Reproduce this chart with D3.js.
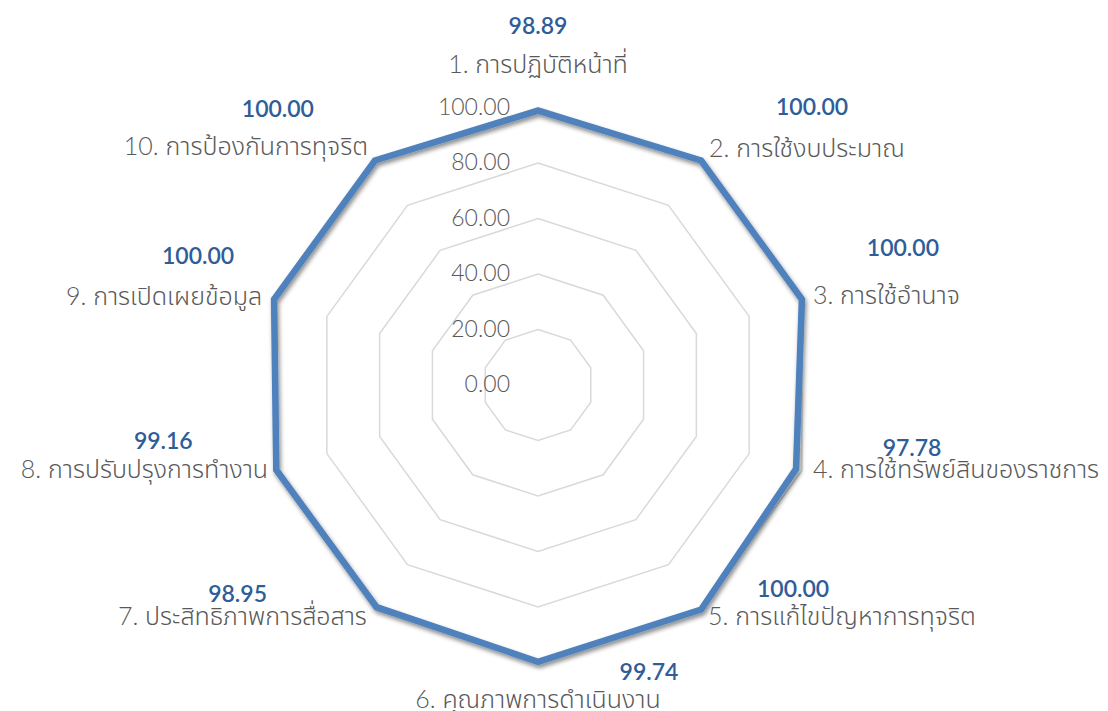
<!DOCTYPE html>
<html>
<head>
<meta charset="utf-8">
<script src="https://cdn.jsdelivr.net/npm/d3@7"></script>
<style>
  html, body { margin: 0; padding: 0; background: #fff; }
  svg { display: block; }
  text { font-family: Lato, "Noto Sans Thai", "Noto Sans", sans-serif; }
</style>
</head>
<body>
<svg id="chart" width="1108" height="711"></svg>
<script>
// ---- data ----
const categories = [
  "1. การปฏิบัติหน้าที่",
  "2. การใช้งบประมาณ",
  "3. การใช้อำนาจ",
  "4. การใช้ทรัพย์สินของราชการ",
  "5. การแก้ไขปัญหาการทุจริต",
  "6. คุณภาพการดำเนินงาน",
  "7. ประสิทธิภาพการสื่อสาร",
  "8. การปรับปรุงการทำงาน",
  "9. การเปิดเผยข้อมูล",
  "10. การป้องกันการทุจริต"
];
const values = [98.89, 100.00, 100.00, 97.78, 100.00, 99.74, 98.95, 99.16, 100.00, 100.00];
const tickValues = [0, 20, 40, 60, 80, 100];

// ---- layout (kept apart from data) ----
const cx = 538, cy = 385, R = 277.5;
// category label offsets from the 100-ring vertex: [dx, dy, anchor]
const catLayout = [
  [0, -45, "middle"], [8, -13, "start"], [11, -5, "start"], [11, -3, "start"], [7, 5, "start"],
  [0, 35, "middle"], [-8, 5, "end"], [-6, -3, "end"], [-12, -4, "end"], [-7, -15, "end"]
];
// value label offsets from the data point: [dx, dy]
const valLayout = [
  [0, -86], [111, -54], [101, -52], [116, -22], [92, -22],
  [111, 9], [-139, -14], [-113, -30], [-76, -44], [-97, -52]
];

const svg = d3.select("#chart");
const defs = svg.append("defs");
const f = defs.append("filter").attr("id", "shadow")
  .attr("x", "-10%").attr("y", "-10%").attr("width", "120%").attr("height", "120%");
f.append("feDropShadow").attr("dx", 1.5).attr("dy", 3).attr("stdDeviation", 2.2)
  .attr("flood-color", "#000").attr("flood-opacity", 0.45);

const n = categories.length;
const angle = d3.scaleLinear().domain([0, n]).range([0, 2 * Math.PI]);
const r = d3.scaleLinear().domain([0, 100]).range([0, R]);

const pt = (i, v) => {
  const a = angle(i);
  return [cx + r(v) * Math.sin(a), cy - r(v) * Math.cos(a)];
};

const lineGen = d3.line().curve(d3.curveLinearClosed);

// grid rings
svg.append("g").selectAll("path")
  .data(tickValues.filter(t => t > 0))
  .join("path")
  .attr("d", t => lineGen(d3.range(n).map(i => pt(i, t))))
  .attr("fill", "none")
  .attr("stroke", "#d9d9d9")
  .attr("stroke-width", 1.5);

// tick labels
svg.append("g").selectAll("text")
  .data(tickValues)
  .join("text")
  .attr("x", cx - 28)
  .attr("y", t => cy - r(t) - 2)
  .attr("text-anchor", "end")
  .attr("dominant-baseline", "central")
  .attr("font-size", 23)
  .attr("font-weight", 300)
  .attr("fill", "#595959")
  .text(t => d3.format(".2f")(t));

// data polygon
svg.append("path")
  .attr("d", lineGen(values.map((v, i) => pt(i, v))))
  .attr("fill", "none")
  .attr("stroke", "#4f81bd")
  .attr("stroke-width", 6.5)
  .attr("stroke-linejoin", "miter")
  .attr("filter", "url(#shadow)");

// category labels
svg.append("g").selectAll("text")
  .data(categories)
  .join("text")
  .attr("x", (d, i) => pt(i, 100)[0] + catLayout[i][0])
  .attr("y", (d, i) => pt(i, 100)[1] + catLayout[i][1])
  .attr("text-anchor", (d, i) => catLayout[i][2])
  .attr("dominant-baseline", "central")
  .attr("font-size", 25)
  .attr("font-weight", 300)
  .attr("fill", "#595959")
  .text(d => d);

// value labels
svg.append("g").selectAll("text")
  .data(values)
  .join("text")
  .attr("x", (v, i) => pt(i, v)[0] + valLayout[i][0])
  .attr("y", (v, i) => pt(i, v)[1] + valLayout[i][1])
  .attr("text-anchor", "middle")
  .attr("dominant-baseline", "central")
  .attr("font-size", 23)
  .attr("font-weight", 600)
  .attr("fill", "#2f5d98")
  .text(v => d3.format(".2f")(v));
</script>
</body>
</html>
